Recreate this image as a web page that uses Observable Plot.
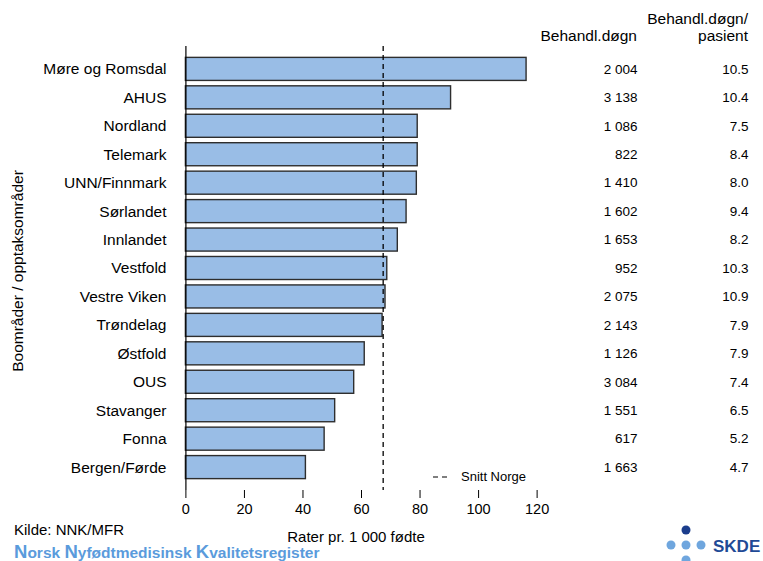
<!DOCTYPE html>
<html>
<head>
<meta charset="utf-8">
<script src="https://cdn.jsdelivr.net/npm/d3@7"></script>
<script src="https://cdn.jsdelivr.net/npm/@observablehq/plot@0.6"></script>
<style>
  body { margin: 0; background: #fff; }
  #wrap { position: relative; width: 763px; height: 561px; overflow: hidden; font-family: "Liberation Sans", Arial, sans-serif; }
  #wrap svg.overlay { position: absolute; left: 0; top: 0; pointer-events: none; }
</style>
</head>
<body>
<div id="wrap"></div>
<script>
// ---- data ----
const regions = ["Møre og Romsdal", "AHUS", "Nordland", "Telemark", "UNN/Finnmark", "Sørlandet", "Innlandet", "Vestfold", "Vestre Viken", "Trøndelag", "Østfold", "OUS", "Stavanger", "Fonna", "Bergen/Førde"];
const rates = [116.4, 90.6, 79.2, 79.2, 78.9, 75.4, 72.4, 68.8, 68.2, 67.2, 61.1, 57.5, 51.0, 47.4, 41.0];
const treatmentDays = [2004, 3138, 1086, 822, 1410, 1602, 1653, 952, 2075, 2143, 1126, 3084, 1551, 617, 1663];
const daysPerPatient = [10.5, 10.4, 7.5, 8.4, 8.0, 9.4, 8.2, 10.3, 10.9, 7.9, 7.9, 7.4, 6.5, 5.2, 4.7];
const nationalAverage = 67.4;
const xTicks = [0, 20, 40, 60, 80, 100, 120];

const rows = regions.map((r, i) => ({region: r, rate: rates[i], days: treatmentDays[i], perPatient: daysPerPatient[i]}));
const fmtDays = n => d3.format(",")(n).replace(/,/g, " ");
const fmt1 = d3.format(".1f");

const font = '"Liberation Sans", Arial, sans-serif';

const chart = Plot.plot({
  width: 763,
  height: 561,
  marginTop: 46,
  marginBottom: 71,
  marginLeft: 178,
  marginRight: 0,
  style: {fontFamily: font, fontSize: "14px", color: "#000", background: "#fff", overflow: "visible"},
  x: {domain: [-2.53, 197.35], ticks: xTicks},
  y: {domain: regions, paddingInner: 0.19, paddingOuter: 0.4, round: false},
  marks: [
    Plot.barX(rows, {x: "rate", y: "region", fill: "#99bde6", stroke: "#2e2e2e", strokeWidth: 1.4}),
    Plot.ruleX([nationalAverage], {stroke: "#000", strokeWidth: 1.3, strokeDasharray: "5,4"}),
    Plot.ruleX([0], {stroke: "#000", strokeWidth: 1.2}),
    Plot.axisX({ticks: xTicks, tickSize: 8, tickPadding: 5, label: null, line: true, fontSize: 14.5}),
    Plot.axisY({tickSize: 0, tickPadding: 12, label: null, fontSize: 15.5}),
    Plot.text(rows, {y: "region", text: d => fmtDays(d.days), frameAnchor: "right", dx: -126, textAnchor: "end", fontSize: 13.5, fill: "#000"}),
    Plot.text(rows, {y: "region", text: d => fmt1(d.perPatient), frameAnchor: "right", dx: -15, textAnchor: "end", fontSize: 13.5, fill: "#000"})
  ]
});

const wrap = document.getElementById("wrap");
wrap.appendChild(chart);

const ns = "http://www.w3.org/2000/svg";
const ov = document.createElementNS(ns, "svg");
ov.setAttribute("class", "overlay");
ov.setAttribute("width", 763);
ov.setAttribute("height", 561);
ov.innerHTML = `
  <g font-family='${font}' font-size="15.5" fill="#000">
    <text x="637" y="41" text-anchor="end">Behandl.døgn</text>
    <text x="748" y="24" text-anchor="end">Behandl.døgn/</text>
    <text x="748" y="41" text-anchor="end">pasient</text>
    <text transform="translate(23,271) rotate(-90)" text-anchor="middle">Boområder / opptaksområder</text>
    <text x="356" y="542" text-anchor="middle" font-size="15">Rater pr. 1 000 fødte</text>
    <text x="14" y="535" font-size="15">Kilde: NNK/MFR</text>
    <line x1="433" x2="448" y1="477" y2="477" stroke="#000" stroke-width="1.2" stroke-dasharray="5,4"/>
    <text x="461" y="481" font-size="13">Snitt Norge</text>
    <text x="14" y="558" fill="#5a9bdc" font-weight="bold" font-size="15.5"><tspan font-size="18.5">N</tspan>orsk <tspan font-size="18.5">N</tspan>yfødtmedisinsk <tspan font-size="18.5">K</tspan>valitetsregister</text>
  </g>
  <g>
    <circle cx="686" cy="530" r="4.5" fill="#1b3d8c"/>
    <circle cx="671" cy="545" r="4.5" fill="#6fa6de"/>
    <circle cx="686" cy="545" r="4.5" fill="#6fa6de"/>
    <circle cx="701" cy="545" r="4.5" fill="#6fa6de"/>
    <circle cx="686" cy="560" r="4.5" fill="#6fa6de"/>
    <text x="713" y="552" font-family='${font}' font-weight="bold" font-size="17" fill="#1f4a96">SKDE</text>
  </g>`;
wrap.appendChild(ov);
</script>
</body>
</html>
